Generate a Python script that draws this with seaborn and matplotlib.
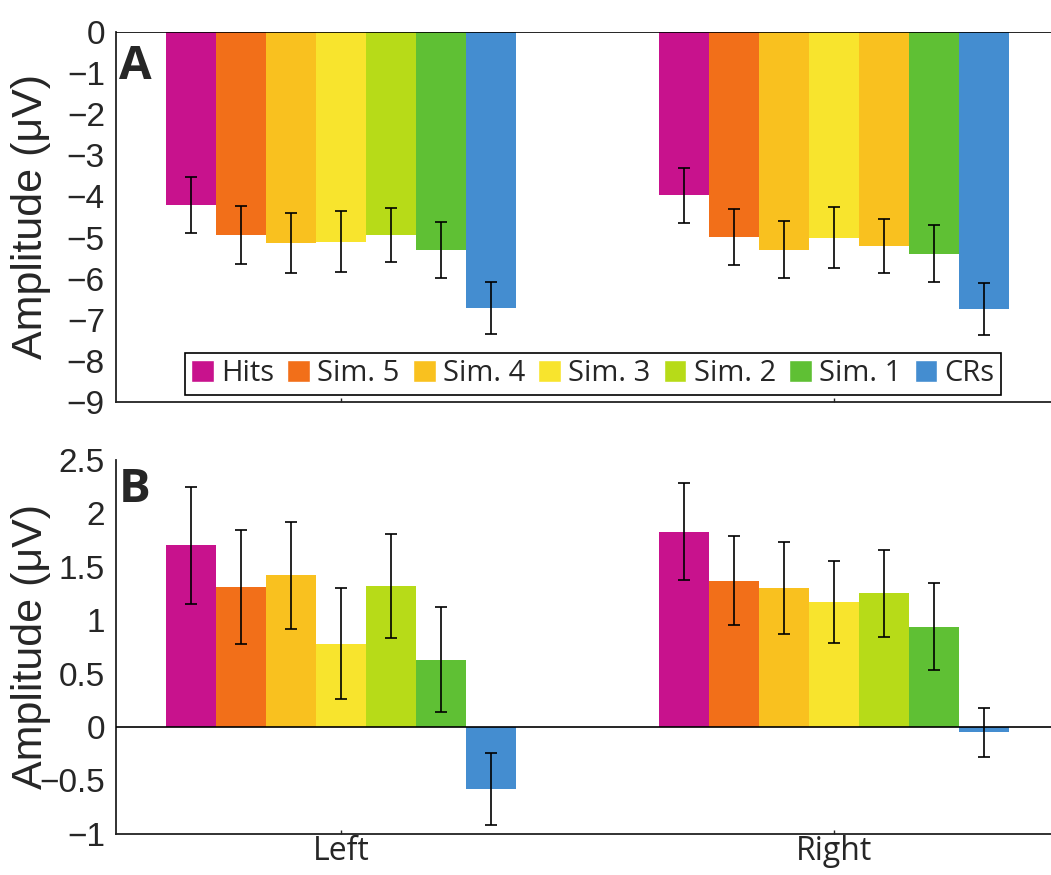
import pandas as pd
import numpy as np
import matplotlib
matplotlib.use('Agg')
import matplotlib.pyplot as plt
from matplotlib.patches import Patch
from matplotlib.ticker import FuncFormatter
import seaborn as sns

conds = ['Hits', 'Sim. 5', 'Sim. 4', 'Sim. 3', 'Sim. 2', 'Sim. 1', 'CRs']
sides = ['Left', 'Right']
colors = ['#C8128D', '#F26F19', '#F9C11F', '#F8E42D', '#B7DB18', '#5FC034', '#448DD0']

# panel A (negative component)
a_left = [-4.21, -4.94, -5.13, -5.10, -4.94, -5.30, -6.71]
a_left_err = [0.69, 0.71, 0.73, 0.75, 0.66, 0.68, 0.63]
a_right = [-3.97, -4.99, -5.30, -5.00, -5.20, -5.39, -6.73]
a_right_err = [0.67, 0.68, 0.69, 0.73, 0.66, 0.70, 0.63]

# panel B
b_left = [1.70, 1.31, 1.42, 0.78, 1.32, 0.63, -0.58]
b_left_err = [0.55, 0.535, 0.50, 0.52, 0.485, 0.49, 0.335]
b_right = [1.83, 1.37, 1.30, 1.17, 1.25, 0.94, -0.05]
b_right_err = [0.45, 0.42, 0.43, 0.38, 0.41, 0.41, 0.23]


def make_df(left, left_err, right, right_err):
    rows = []
    for c, v, e in zip(conds, left, left_err):
        rows.append({'side': 'Left', 'cond': c, 'amp': v, 'err': e})
    for c, v, e in zip(conds, right, right_err):
        rows.append({'side': 'Right', 'cond': c, 'amp': v, 'err': e})
    return pd.DataFrame(rows)


dfA = make_df(a_left, a_left_err, a_right, a_right_err)
dfB = make_df(b_left, b_left_err, b_right, b_right_err)

sns.set_style('ticks')
plt.rcParams['font.family'] = ['Liberation Sans', 'DejaVu Sans']
plt.rcParams['axes.unicode_minus'] = True

fig = plt.figure(figsize=(10.51, 8.75), dpi=100)
ax1 = fig.add_axes([0.1104, 0.5406, 0.8896, 0.4229])
ax2 = fig.add_axes([0.1104, 0.0472, 0.8896, 0.4271])

fmt = FuncFormatter(lambda v, p: '{:g}'.format(v).replace('-', '\u2212'))


def draw(ax, df):
    sns.barplot(data=df, x='side', y='amp', hue='cond', order=sides, hue_order=conds,
                palette=colors, saturation=1, width=0.71, linewidth=0,
                errorbar=None, legend=False, ax=ax)
    bars = list(ax.containers)
    for i, cont in enumerate(bars):
        for j, bar in enumerate(cont):
            row = df[(df.cond == conds[i]) & (df.side == sides[j])].iloc[0]
            xc = bar.get_x() + bar.get_width() / 2
            ax.errorbar(xc, row.amp, yerr=row.err, fmt='none', ecolor='black',
                        elinewidth=1.2, capsize=4.5, capthick=1.2, zorder=5)
    ax.axhline(0, color='black', lw=1.2, zorder=4)
    ax.set_xlim(-0.456, 1.441)
    ax.set_xlabel('')
    ax.set_ylabel('Amplitude (\u03bcV)', fontsize=31)
    ax.yaxis.set_label_coords(-0.07, 0.5)
    ax.yaxis.set_major_formatter(fmt)
    ax.tick_params(axis='y', length=0, labelsize=24, pad=8)
    ax.tick_params(axis='x', length=3, direction='in', width=1)
    for s in ['top', 'right']:
        ax.spines[s].set_visible(False)
    for s in ['left', 'bottom']:
        ax.spines[s].set_linewidth(1.3)
        ax.spines[s].set_color('#222222')
    return bars


barsA = draw(ax1, dfA)
# the original figure paints the right-hand Sim. 2 bar in the Sim. 4 colour
barsA[4][1].set_facecolor(colors[2])
ax1.set_ylim(-9, 0)
ax1.set_yticks(np.arange(-9, 1, 1))
ax1.tick_params(axis='x', labelbottom=False)
handles = [Patch(facecolor=c, label=l) for c, l in zip(colors, conds)]
leg = ax1.legend(handles=handles, loc='lower center', bbox_to_anchor=(0.51, 0.02),
                 ncol=7, frameon=True, fancybox=False, framealpha=1,
                 edgecolor='black', handlelength=0.78, handleheight=0.78,
                 handletextpad=0.25, columnspacing=0.45, borderpad=0.22,
                 borderaxespad=0, prop={'family': 'Open Sans', 'size': 21})
leg.get_frame().set_linewidth(1.2)
ax1.text(0.003, 0.97, 'A', transform=ax1.transAxes, ha='left', va='top',
         fontsize=34, fontweight='bold', family='Open Sans')

draw(ax2, dfB)
ax2.set_ylim(-1, 2.5)
ax2.set_yticks(np.arange(-1, 2.51, 0.5))
for lab in ax2.get_xticklabels():
    lab.set_fontfamily('Open Sans')
    lab.set_fontsize(23)
ax2.tick_params(axis='x', pad=1)
ax2.text(0.003, 0.985, 'B', transform=ax2.transAxes, ha='left', va='top',
         fontsize=34, fontweight='bold', family='Open Sans')

fig.savefig('out.png', dpi=100)
